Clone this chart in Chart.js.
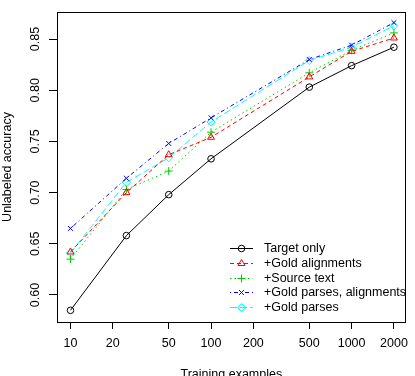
<!DOCTYPE html>
<html>
<head>
<meta charset="utf-8">
<script src="https://cdn.jsdelivr.net/npm/chart.js@4/dist/chart.umd.min.js"></script>
<style>
  html, body { margin: 0; padding: 0; background: #fff; }
  canvas { display: block; }
</style>
</head>
<body>
<canvas id="acc" width="415" height="376"></canvas>
<script>
var trainingSizes = [10, 25, 50, 100, 500, 1000, 2000];
var targetOnly = [0.585, 0.658, 0.698, 0.733, 0.803, 0.824, 0.842];
var goldAlignments = [0.642, 0.700, 0.737, 0.754, 0.813, 0.838, 0.851];
var sourceText = [0.635, 0.703, 0.721, 0.759, 0.817, 0.839, 0.856];
var goldParsesAlignments = [0.665, 0.714, 0.748, 0.773, 0.830, 0.844, 0.866];
var goldParses = [0.641, 0.710, 0.734, 0.769, 0.829, 0.842, 0.863];
var xTicks = [10, 20, 50, 100, 200, 500, 1000, 2000];
var yTicks = [0.60, 0.65, 0.70, 0.75, 0.80, 0.85];

var font = { family: "'Liberation Sans', Arial, sans-serif", size: 12.5 };

function points(values) {
  return values.map(function(v, i) { return { x: trainingSizes[i], y: v }; });
}

function series(label, values, color, dash, style, radius) {
  return {
    label: label,
    data: points(values),
    borderColor: color,
    backgroundColor: 'rgba(0,0,0,0)',
    borderWidth: 1,
    borderDash: dash,
    pointStyle: style,
    pointRadius: radius,
    pointBorderColor: color,
    pointBackgroundColor: 'rgba(0,0,0,0)',
    pointBorderWidth: 1,
    tension: 0
  };
}

// frame round the plot, like R's box()
var boxPlugin = {
  id: 'box',
  afterDraw: function(chart) {
    var a = chart.chartArea, ctx = chart.ctx;
    ctx.save();
    ctx.strokeStyle = '#000';
    ctx.lineWidth = 1;
    ctx.strokeRect(Math.round(a.left) + 0.5, Math.round(a.top) + 0.5,
      Math.round(a.right - a.left) - 1, Math.round(a.bottom - a.top));
    ctx.restore();
  }
};

// R-style legend: short line with the point in the middle, no border
var legendPlugin = {
  id: 'rlegend',
  afterDatasetsDraw: function(chart) {
    var ctx = chart.ctx;
    var x0 = 230, x1 = 253, xt = 264, y0 = 248, step = 14.8;
    ctx.save();
    chart.data.datasets.forEach(function(ds, i) {
      var y = Math.round(y0 + i * step) + 0.5;
      ctx.strokeStyle = ds.borderColor;
      ctx.lineWidth = 1;
      ctx.setLineDash(ds.borderDash || []);
      ctx.beginPath();
      ctx.moveTo(x0, y);
      ctx.lineTo(x1, y);
      ctx.stroke();
      ctx.setLineDash([]);
      ctx.strokeStyle = ds.pointBorderColor;
      ctx.fillStyle = 'rgba(0,0,0,0)';
      Chart.helpers.drawPoint(ctx, {
        pointStyle: ds.pointStyle, radius: ds.pointRadius, borderWidth: 1.2, rotation: 0
      }, 241.5, y);
      ctx.fillStyle = '#000';
      ctx.font = font.size + 'px ' + font.family;
      ctx.textAlign = 'left';
      ctx.textBaseline = 'middle';
      ctx.fillText(ds.label, xt, y);
    });
    ctx.restore();
  }
};

var config = {
  type: 'line',
  data: {
    datasets: [
      series('Target only', targetOnly, '#000000', [], 'circle', 3.3),
      series('+Gold alignments', goldAlignments, '#ff0000', [4, 3], 'triangle', 4),
      series('+Source text', sourceText, '#00cd00', [1.5, 3], 'cross', 4),
      series('+Gold parses, alignments', goldParsesAlignments, '#0000ff', [1, 3, 4, 3], 'crossRot', 3.5),
      series('+Gold parses', goldParses, '#00ffff', [7, 3], 'rectRot', 4)
    ]
  },
  options: {
    responsive: false,
    animation: false,
    layout: { padding: { top: 12, right: 3.5, bottom: 0, left: 0 } },
    plugins: {
      legend: { display: false },
      tooltip: { enabled: false }
    },
    scales: {
      x: {
        type: 'logarithmic',
        min: 8.02,
        max: 2427,
        afterBuildTicks: function(scale) {
          scale.ticks = xTicks.map(function(v) { return { value: v }; });
        },
        afterFit: function(scale) { scale.height = 54; },
        grid: { drawOnChartArea: false, drawTicks: true, tickLength: 7, color: '#000', lineWidth: 1 },
        border: { display: false },
        ticks: {
          font: font, color: '#000', padding: 7, autoSkip: false, maxRotation: 0,
          callback: function(v) { return String(v); }
        },
        title: {
          display: true, text: 'Training examples', font: font, color: '#000',
          padding: { top: 0, bottom: -6 }
        }
      },
      y: {
        type: 'linear',
        min: 0.5736,
        max: 0.8764,
        afterBuildTicks: function(scale) {
          scale.ticks = yTicks.map(function(v) { return { value: v }; });
        },
        afterFit: function(scale) { scale.width = 57; },
        grid: { drawOnChartArea: false, drawTicks: true, tickLength: 8, color: '#000', lineWidth: 1 },
        border: { display: false },
        ticks: {
          font: font, color: '#000', padding: 1, crossAlign: 'center',
          minRotation: 90, maxRotation: 90,
          callback: function(v) { return v.toFixed(2); }
        },
        title: {
          display: true, text: 'Unlabeled accuracy', font: font, color: '#000',
          padding: { top: 0, bottom: 0 }
        }
      }
    }
  },
  plugins: [boxPlugin, legendPlugin]
};

window.onload = function() {
  window.accChart = new Chart(document.getElementById('acc'), config);
};
</script>
</body>
</html>
